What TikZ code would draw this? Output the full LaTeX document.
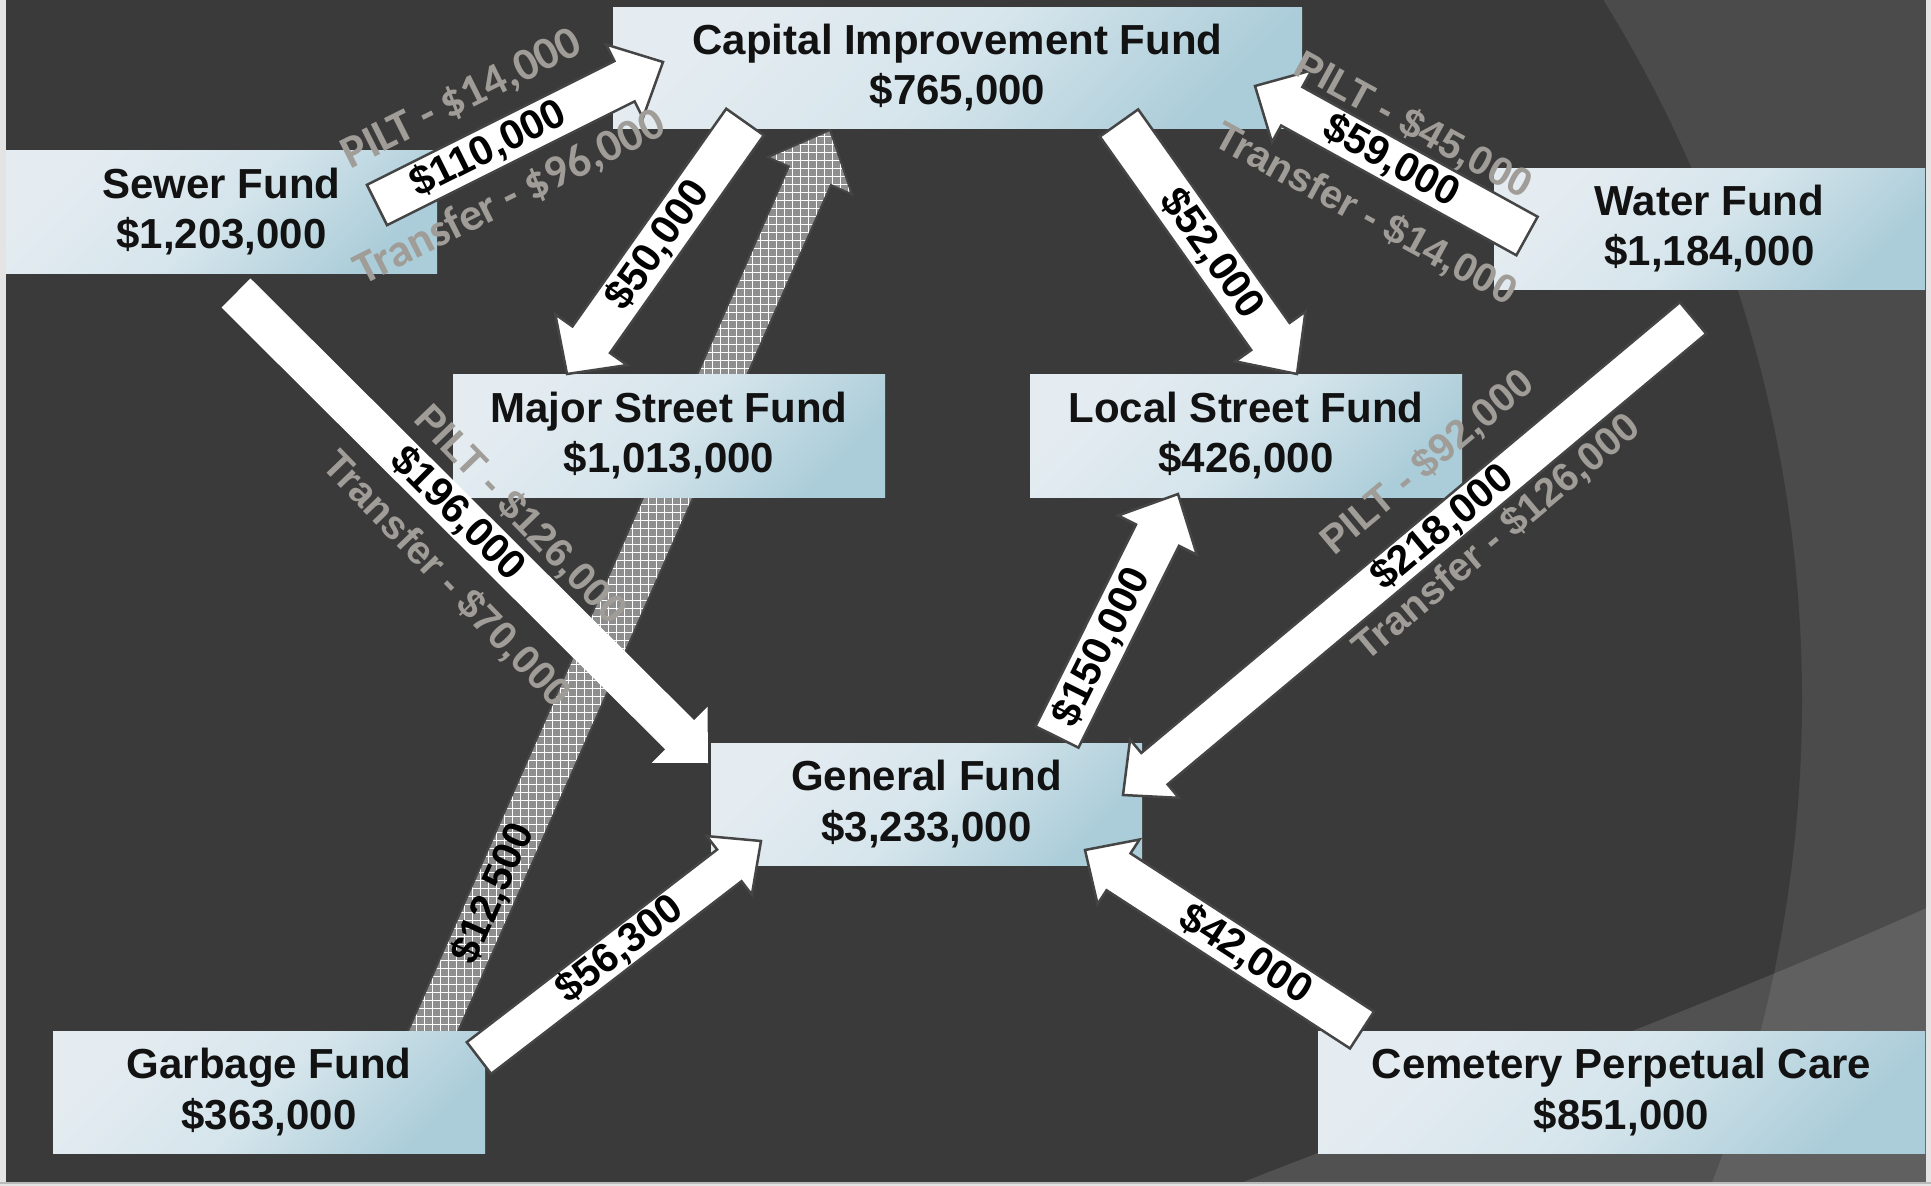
\documentclass[tikz,border=0pt]{standalone}
\usepackage{fontspec}
\setmainfont{Liberation Sans}
\newfontfamily\calfont{Carlito}
\usetikzlibrary{calc}
\definecolor{bgdark}{HTML}{3A3A3A}
\definecolor{bgmid}{HTML}{4B4B4B}
\definecolor{boxL}{HTML}{E4ECF1}
\definecolor{boxM}{HTML}{D6E5EC}
\definecolor{boxR}{HTML}{ABCDD9}
\definecolor{lblgray}{HTML}{A09C97}
\definecolor{arrowedge}{HTML}{454545}
\definecolor{hatchfill}{HTML}{8E8E8E}
\definecolor{marginc}{HTML}{E4E4E4}

% block arrow: [style]{tail}{tip}{shaft width}{head width}{head length}
\newcommand{\blockarrow}[6][]{%
  \coordinate (bah) at ($(#3)!#6!(#2)$);
  \path[#1] ($(#2)!#4/2!90:(#3)$) -- ($(bah)!#4/2!90:(#3)$) -- ($(bah)!#5/2!90:(#3)$) -- (#3)
     -- ($(bah)!#5/2!-90:(#3)$) -- ($(bah)!#4/2!-90:(#3)$) -- ($(#2)!#4/2!-90:(#3)$) -- cycle;%
}

\begin{document}
\begin{tikzpicture}[x=1pt,y=-1pt,
  fund/.style={left color=boxL, right color=boxR, middle color=boxM, shading angle=45,
    inner sep=0pt, align=center, text=black!93,
    font=\bfseries\fontsize{42}{50.5}\selectfont},
  amt/.style={font=\bfseries\fontsize{41}{44}\selectfont, text=black, inner sep=0pt},
  gry/.style={font=\bfseries\fontsize{40}{44}\selectfont, text=lblgray, inner sep=0pt},
  gryc/.style={font=\calfont\bfseries\fontsize{46}{50}\selectfont, text=lblgray, inner sep=0pt},
  flow/.style={fill=white, draw=arrowedge, line width=2.5pt, line join=miter},
  flowplain/.style={fill=white},
  hatcharrow/.style={fill=hatchfill, draw=arrowedge, line width=2pt, line join=miter,
    path picture={\draw[white, line width=1pt] (path picture bounding box.south west)
      grid[step=8pt] (path picture bounding box.north east);}},
]
\useasboundingbox (0,0) rectangle (1931,1186);

% ---------- background ----------
\fill[marginc] (0,0) rectangle (1931,1186);
\fill[bgmid] (6,0) rectangle (1926,1182);
\begin{scope}
  \clip (6,0) rectangle (1926,1182);
  \fill[bgdark] (471,700) circle[radius=1331pt];
  \fill[white, opacity=0.12] (1931,906) .. controls (1700,1010) and (1400,1120) .. (1223,1190)
     -- (1931,1190) -- cycle;
\end{scope}
\draw[gray!55, line width=2pt] (0,1183) -- (1931,1183);

% ---------- connector end points ----------
\coordinate (t1) at (377,205);   \coordinate (h1) at (663,62);
\coordinate (t2) at (745,122);   \coordinate (h2) at (567,374);
\coordinate (t3) at (1119,123);  \coordinate (h3) at (1297,374);
\coordinate (t4) at (1527,236);  \coordinate (h4) at (1255,86);
\coordinate (t5) at (236,293);   \coordinate (h5) at (708,763);
\coordinate (t6) at (1693,318);  \coordinate (h6) at (1123,795);
\coordinate (t7) at (1057,737);  \coordinate (h7) at (1178,494);
\coordinate (t8) at (479,1058);  \coordinate (h8) at (761,841);
\coordinate (t9) at (1362,1030); \coordinate (h9) at (1085,850);
\coordinate (t10) at (427,1045); \coordinate (h10) at (830,130);

% hatched arrow (behind the boxes)
\blockarrow[hatcharrow]{t10}{h10}{46pt}{92pt}{50pt}

% ---------- fund boxes ----------
\node[fund, minimum width=689pt, minimum height=121pt] (cap) at (957.5,67.5) {Capital Improvement Fund\\\$765,000};
\node[fund, minimum width=431pt, minimum height=123pt] (sewer) at (221.5,211.5) {Sewer Fund\\\$1,203,000};
\node[fund, minimum width=431pt, minimum height=121pt] (water) at (1709.5,228.5) {Water Fund\\\$1,184,000};
\node[fund, minimum width=432pt, minimum height=123pt] (major) at (669,435.5) {Major Street Fund\\\$1,013,000};
\node[fund, minimum width=432pt, minimum height=123pt] (local) at (1246,435.5) {Local Street Fund\\\$426,000};
\node[fund, minimum width=431pt, minimum height=122pt] (gen) at (926.5,804) {General Fund\\\$3,233,000};
\node[fund, minimum width=432pt, minimum height=122pt] (garb) at (269,1092) {Garbage Fund\\\$363,000};
\node[fund, minimum width=607pt, minimum height=122pt] (cem) at (1621.5,1092) {Cemetery Perpetual Care\\\$851,000};

% ---------- white block arrows ----------
\blockarrow[flowplain]{t5}{h5}{41pt}{79pt}{40pt}
\blockarrow[flow]{t1}{h1}{45pt}{82pt}{43pt}
\blockarrow[flow]{t2}{h2}{46pt}{88pt}{42pt}
\blockarrow[flow]{t3}{h3}{47pt}{86pt}{46pt}
\blockarrow[flow]{t4}{h4}{44pt}{82pt}{42pt}
\blockarrow[flow]{t6}{h6}{41pt}{76pt}{41pt}
\blockarrow[flow]{t7}{h7}{48pt}{88pt}{46pt}
\blockarrow[flow]{t8}{h8}{40pt}{74pt}{40pt}
\blockarrow[flow]{t9}{h9}{44pt}{77pt}{40pt}

% ---------- amounts on arrows ----------
\path (t1) -- (h1) node[amt, sloped, pos=0.39] (l1) {\$110,000};
\path (t2) -- (h2) node[amt, sloped, pos=0.49] (l2) {\$50,000};
\path (t3) -- (h3) node[amt, sloped, pos=0.52] (l3) {\$52,000};
\path (t4) -- (h4) node[amt, sloped, pos=0.50] (l4) {\$59,000};
\path (t5) -- (h5) node[amt, sloped, pos=0.47] (l5) {\$196,000};
\path (t6) -- (h6) node[amt, sloped, pos=0.44] (l6) {\$218,000};
\path (t7) -- (h7) node[amt, sloped, pos=0.37] (l7) {\$150,000};
\path (t8) -- (h8) node[amt, sloped, pos=0.50] (l8) {\$56,300};
\path (t9) -- (h9) node[amt, sloped, pos=0.42] (l9) {\$42,000};
\path (t10) -- (h10) node[amt, sloped, pos=0.165] (l10) {\$12,500};

% ---------- PILT / Transfer labels ----------
\node[gryc, rotate=26.6] (g1) at (462,100) {PILT - \$14,000};
\node[gryc, rotate=26.6] (g2) at (510,198) {Transfer - \$96,000};
\node[gry, rotate=-28.6] (g3) at (1413,126) {PILT - \$45,000};
\node[gry, rotate=-28.6] (g4) at (1365,215) {Transfer - \$14,000};
\node[gry, rotate=-46] (g5) at (520,515) {PILT - \$126,000};
\node[gry, rotate=-46] (g6) at (446,580) {Transfer - \$70,000};
\node[gry, rotate=40] (g7) at (1428,463) {PILT - \$92,000};
\node[gry, rotate=40] (g8) at (1497,538) {Transfer - \$126,000};
\end{tikzpicture}
\end{document}
